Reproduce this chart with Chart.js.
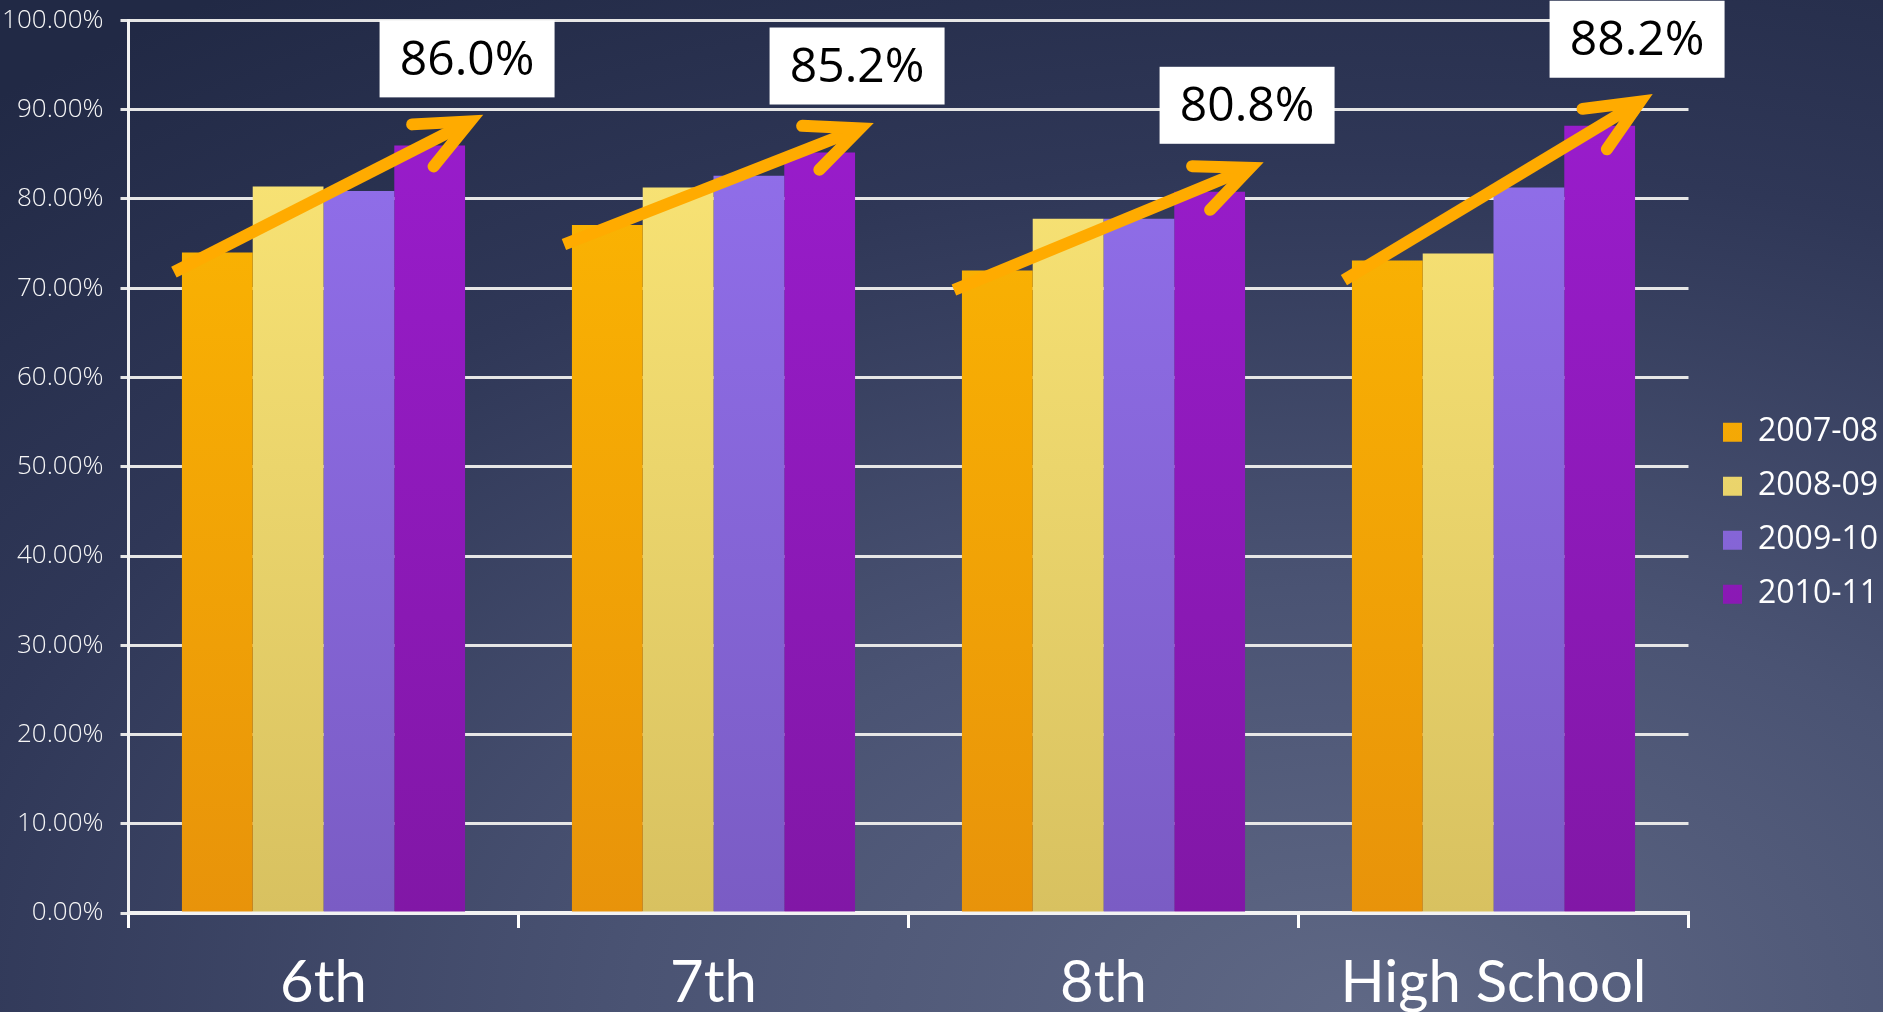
<!DOCTYPE html>
<html>
<head>
<meta charset="utf-8">
<script src="https://cdn.jsdelivr.net/npm/chart.js@4.4.0/dist/chart.umd.min.js"></script>
<style>
  html, body { margin: 0; padding: 0; width: 1883px; height: 1012px; overflow: hidden; }
  body {
    background: radial-gradient(ellipse 110% 120% at 72% 100%, #5f6885 0%, #4a5373 35%, #2f3757 70%, #212945 100%);
  }
  #wrap { position: absolute; left: 0; top: 0; width: 1883px; height: 1012px; }
</style>
</head>
<body>
<div id="wrap"><canvas id="barChart"></canvas></div>
<script>
// graduation / pass rates by grade, four school years
const grades = ['6th', '7th', '8th', 'High School'];
const years = ['2007-08', '2008-09', '2009-10', '2010-11'];
const rate0708 = [74.0, 77.1, 72.0, 73.1];
const rate0809 = [81.4, 81.3, 77.8, 73.9];
const rate0910 = [80.9, 82.6, 77.8, 81.3];
const rate1011 = [86.0, 85.2, 80.8, 88.2];

// top / bottom colour of each series
const fills = [
  ['#ffbb00', '#e8930a'],
  ['#fee978', '#d8c160'],
  ['#9471f0', '#7a5cc4'],
  ['#9c1dd0', '#8117a6']
];

function gradientFor(i) {
  return function (ctx) {
    const area = ctx.chart.chartArea;
    if (!area) return fills[i][0];
    const g = ctx.chart.ctx.createLinearGradient(0, area.top, 0, area.bottom);
    g.addColorStop(0, fills[i][0]);
    g.addColorStop(1, fills[i][1]);
    return g;
  };
}

const series = [rate0708, rate0809, rate0910, rate1011];

// orange arrow from the first year up to the last year, with a callout box
const arrowCallouts = {
  id: 'arrowCallouts',
  afterDatasetsDraw(chart) {
    const c = chart.ctx;
    const y = chart.scales.y;
    const first = chart.getDatasetMeta(0).data;
    const last = chart.getDatasetMeta(3).data;
    c.save();
    grades.forEach((g, j) => {
      const a = first[j], b = last[j];
      const x1 = a.x - a.width / 2 - 8;
      const y1 = y.getPixelForValue(rate0708[j] - 2.2);
      const x2 = b.x + b.width / 2 + 5;
      const y2 = y.getPixelForValue(rate1011[j] + 2.7);
      const ang = Math.atan2(y2 - y1, x2 - x1);
      c.strokeStyle = '#ffab00';
      c.lineWidth = 12;
      c.lineCap = 'butt';
      c.beginPath();
      c.moveTo(x1, y1);
      c.lineTo(x2 - 6 * Math.cos(ang), y2 - 6 * Math.sin(ang));
      c.stroke();
      const armLen = 58, spread = 24 * Math.PI / 180;
      c.lineCap = 'round';
      c.lineJoin = 'miter';
      c.beginPath();
      c.moveTo(x2 - armLen * Math.cos(ang - spread), y2 - armLen * Math.sin(ang - spread));
      c.lineTo(x2, y2);
      c.lineTo(x2 - armLen * Math.cos(ang + spread), y2 - armLen * Math.sin(ang + spread));
      c.stroke();

      const cx = b.x + b.width / 2 + 2;
      const cy = y.getPixelForValue(rate1011[j] + 9.7);
      const w = 175, h = 77;
      c.fillStyle = '#ffffff';
      c.fillRect(cx - w / 2, cy - h / 2, w, h);
      c.fillStyle = '#000000';
      c.font = '500 48px "Open Sans", "Noto Sans", sans-serif';
      c.textAlign = 'center';
      c.textBaseline = 'middle';
      c.fillText(rate1011[j].toFixed(1) + '%', cx, cy + 2);
    });
    c.restore();
  }
};

// keep the legend column at a fixed width, then nudge it into place
const legendPlacement = {
  id: 'legendPlacement',
  beforeLayout(chart) {
    const lg = chart.legend;
    if (lg && !lg._patched) {
      const fit = lg.fit.bind(lg);
      lg.fit = function () { fit(); this.width = 194.5; };
      lg._patched = true;
    }
  },
  afterLayout(chart) {
    const lg = chart.legend;
    if (!lg) return;
    const shift = 1701 - lg.left;
    lg.left += shift;
    lg.right += shift;
    lg.top -= 3;
    lg.bottom -= 3;
  }
};

new Chart(document.getElementById('barChart'), {
  type: 'bar',
  data: {
    labels: grades,
    datasets: series.map((vals, i) => ({
      label: years[i],
      data: vals,
      backgroundColor: gradientFor(i),
      borderWidth: 0,
      categoryPercentage: 0.726,
      barPercentage: 1.0
    }))
  },
  options: {
    responsive: true,
    maintainAspectRatio: false,
    animation: false,
    layout: { padding: { top: 20.5, left: 0, right: 0, bottom: 0 } },
    plugins: {
      tooltip: { enabled: false },
      legend: {
        position: 'right',
        align: 'center',
        labels: {
          color: '#ffffff',
          boxWidth: 19,
          boxHeight: 19,
          padding: 22,
          font: { family: '"Open Sans", "Noto Sans", sans-serif', size: 32 }
        }
      }
    },
    scales: {
      x: {
        grid: {
          display: true,
          drawOnChartArea: false,
          drawTicks: true,
          tickLength: 15,
          offset: true,
          color: '#ffffff',
          lineWidth: 3
        },
        border: { display: true, color: '#f2f2f2', width: 4 },
        ticks: {
          color: '#ffffff',
          padding: 20,
          font: { family: 'Lato, "Open Sans", sans-serif', size: 58 }
        },
        afterFit(scale) { scale.height = 99; }
      },
      y: {
        min: 0,
        max: 100,
        ticks: {
          stepSize: 10,
          color: '#f6f6f6',
          padding: 17,
          font: { family: '"Open Sans", "Noto Sans", sans-serif', size: 26, weight: 300 },
          callback: v => v.toFixed(2) + '%'
        },
        grid: { color: '#e6e6e6', lineWidth: 3, tickLength: 8, drawTicks: true },
        border: { display: true, color: '#f2f2f2', width: 3 },
        afterFit(scale) {
          scale.width = 128.5;
          scale.paddingTop = 10;
          scale.paddingBottom = 10;
        }
      }
    }
  },
  plugins: [legendPlacement, arrowCallouts]
});
</script>
</body>
</html>
